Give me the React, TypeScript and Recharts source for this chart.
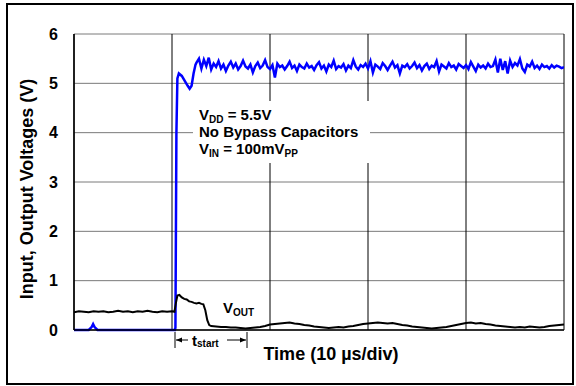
import { LineChart, Line, XAxis, YAxis, ReferenceLine } from 'recharts';

// time axis in units of 10 µs, 0..10; the grid shows a line every 2 units
const xTicks = [0, 2, 4, 6, 8, 10];
const yTicks = [0, 1, 2, 3, 4, 5, 6];

// V_DD (blue): flat start with a small blip, fast rise, ringing, then noisy plateau
const vddStartTimes = [0, 0.3, 0.36, 0.39, 0.42, 0.48, 2.06, 2.07, 2.09, 2.11, 2.14, 2.2, 2.26, 2.32, 2.36, 2.4, 2.44, 2.48];
const vddStartValues = [0, 0, 0.06, 0.12, 0.06, 0, 0, 0.05, 4.0, 5.1, 5.2, 5.15, 5.05, 4.95, 4.89, 4.95, 5.2, 5.38];
const vddNoiseStart = 2.5;
const vddNoiseStep = 0.05;
const vddNoiseValues = [
  5.42, 5.5, 5.3, 5.48, 5.35, 5.52, 5.28, 5.4, 5.33, 5.45,
  5.3, 5.38, 5.25, 5.36, 5.44, 5.32, 5.4, 5.28, 5.35, 5.46,
  5.34, 5.3, 5.38, 5.22, 5.35, 5.42, 5.31, 5.36, 5.47, 5.33,
  5.29, 5.37, 5.12, 5.4, 5.33, 5.36, 5.28, 5.35, 5.44, 5.31,
  5.36, 5.25, 5.38, 5.33, 5.3, 5.4, 5.32, 5.35, 5.27, 5.37,
  5.43, 5.3, 5.36, 5.24, 5.38, 5.33, 5.46, 5.29, 5.35, 5.32,
  5.39, 5.26, 5.36, 5.31, 5.47, 5.34, 5.28, 5.37, 5.33, 5.4,
  5.3, 5.45, 5.22, 5.38, 5.34, 5.29, 5.41, 5.35, 5.27, 5.36,
  5.44, 5.32, 5.37, 5.2, 5.36, 5.33, 5.39, 5.3, 5.35, 5.42,
  5.31, 5.37, 5.26, 5.35, 5.4, 5.29, 5.36, 5.33, 5.45, 5.24,
  5.38, 5.34, 5.3, 5.41, 5.33, 5.36, 5.28, 5.39, 5.35, 5.31,
  5.37, 5.29, 5.43, 5.34, 5.25, 5.38, 5.32, 5.36, 5.3, 5.4,
  5.33, 5.35, 5.48, 5.22, 5.5, 5.27, 5.45, 5.2, 5.46, 5.33,
  5.41, 5.36, 5.49, 5.3, 5.23, 5.38, 5.34, 5.44, 5.31, 5.36,
  5.29, 5.38, 5.33, 5.35, 5.3, 5.37, 5.32, 5.36, 5.34, 5.31, 5.33,
];

// V_OUT (black)
const voutPreStep = 0.1;
const voutPreValues = [
  0.36, 0.38, 0.37, 0.36, 0.38, 0.37, 0.38, 0.36, 0.37, 0.39, 0.37,
  0.38, 0.36, 0.38, 0.37, 0.39, 0.37, 0.36, 0.38, 0.37, 0.38,
];
const voutStepTimes = [2.05, 2.08, 2.11, 2.15, 2.2, 2.25, 2.3, 2.35, 2.4, 2.45, 2.5, 2.55, 2.6, 2.64, 2.68, 2.72, 2.76, 2.8, 2.9, 3.0];
const voutStepValues = [0.37, 0.55, 0.7, 0.71, 0.66, 0.63, 0.62, 0.58, 0.57, 0.55, 0.54, 0.55, 0.53, 0.52, 0.4, 0.2, 0.1, 0.08, 0.07, 0.06];
const voutTailStart = 3.1;
const voutTailStep = 0.1;
const voutTailValues = [
  0.06, 0.05, 0.05, 0.04, 0.03, 0.04, 0.05, 0.06, 0.08,
  0.11, 0.12, 0.13, 0.14, 0.15, 0.13, 0.12, 0.1, 0.09, 0.07,
  0.06, 0.05, 0.04, 0.05, 0.06, 0.05, 0.07, 0.08, 0.1, 0.12,
  0.13, 0.14, 0.15, 0.14, 0.13, 0.14, 0.12, 0.1, 0.09, 0.07,
  0.06, 0.05, 0.04, 0.03, 0.04, 0.05, 0.06, 0.08, 0.1, 0.12,
  0.14, 0.15, 0.13, 0.14, 0.12, 0.11, 0.09, 0.08, 0.07, 0.06,
  0.05, 0.06, 0.05, 0.07, 0.06, 0.05, 0.06, 0.08, 0.09, 0.1,
  0.11,
];

const vddData = [
  ...vddStartTimes.map((t, i) => ({ t, v: vddStartValues[i] })),
  ...vddNoiseValues.map((v, i) => ({ t: +(vddNoiseStart + i * vddNoiseStep).toFixed(3), v })),
];
const voutData = [
  ...voutPreValues.map((v, i) => ({ t: +(i * voutPreStep).toFixed(3), v })),
  ...voutStepTimes.map((t, i) => ({ t, v: voutStepValues[i] })),
  ...voutTailValues.map((v, i) => ({ t: +(voutTailStart + i * voutTailStep).toFixed(3), v })),
];

const FONT = '"Liberation Sans", Arial, sans-serif';

export default function App() {
  return (
    <div style={{ position: 'absolute', left: 0, top: 0, width: 576, height: 386, background: '#fff', fontFamily: FONT }}>
      <LineChart width={576} height={386} margin={{ top: 34, right: 12, bottom: 26, left: 14 }}>
        {yTicks.map((y) => (
          <ReferenceLine key={`h${y}`} y={y} stroke="#7a7a7a" strokeWidth={1} />
        ))}
        {xTicks.map((x) => (
          <ReferenceLine key={`v${x}`} x={x} stroke="#000" strokeWidth={1} />
        ))}
        <XAxis
          type="number"
          dataKey="t"
          domain={[0, 10]}
          ticks={xTicks}
          tick={false}
          tickLine={false}
          axisLine={{ stroke: '#000', strokeWidth: 1.5 }}
          height={30}
          allowDataOverflow
        />
        <YAxis
          type="number"
          domain={[0, 6]}
          ticks={yTicks}
          tickLine={false}
          tickSize={0}
          tickMargin={16}
          axisLine={{ stroke: '#000', strokeWidth: 1.5 }}
          width={60}
          tick={{ fill: '#000', fontSize: 16, fontWeight: 'bold', fontFamily: FONT }}
        />
        <Line data={vddData} dataKey="v" type="linear" stroke="#0000ff" strokeWidth={2.5} dot={false} isAnimationActive={false} />
        <Line data={voutData} dataKey="v" type="linear" stroke="#000" strokeWidth={2} dot={false} isAnimationActive={false} />
      </LineChart>
      <svg width={576} height={386} style={{ position: 'absolute', left: 0, top: 0, pointerEvents: 'none' }} fontFamily={FONT} fontWeight="bold">
        <rect x={7} y={4} width={566} height={380} fill="none" stroke="#000" strokeWidth={2} />
        <rect x={193} y={101} width={177} height={62} fill="#fff" />
        <text x={199} y={120} fontSize={15}>
          V<tspan fontSize={10} dy={2.5}>DD</tspan>
          <tspan dy={-2.5}> = 5.5V</tspan>
        </text>
        <text x={199} y={137} fontSize={15}>No Bypass Capacitors</text>
        <text x={199} y={154} fontSize={15}>
          V<tspan fontSize={10} dy={2.5}>IN</tspan>
          <tspan dy={-2.5}> = 100mV</tspan>
          <tspan fontSize={10} dy={2.5}>PP</tspan>
        </text>
        <text x={223} y={313} fontSize={15}>
          V<tspan fontSize={10} dy={3}>OUT</tspan>
        </text>
        <text transform="translate(33,189) rotate(-90)" textAnchor="middle" fontSize={18}>
          Input, Output Voltages (V)
        </text>
        <text x={331} y={360} textAnchor="middle" fontSize={18}>Time (10 µs/div)</text>
        {/* t_start marker */}
        <line x1={175} y1={332} x2={175} y2={348} stroke="#000" strokeWidth={1} />
        <line x1={247} y1={332} x2={247} y2={348} stroke="#000" strokeWidth={1} />
        <line x1={176} y1={340} x2={188} y2={340} stroke="#000" strokeWidth={1} />
        <line x1={227} y1={340} x2={246} y2={340} stroke="#000" strokeWidth={1} />
        <path d="M176,340 L182,337.5 L182,342.5 Z" fill="#000" />
        <path d="M246,340 L240,337.5 L240,342.5 Z" fill="#000" />
        <text x={192} y={346} fontSize={15}>
          t<tspan fontSize={10} dy={1}>start</tspan>
        </text>
      </svg>
    </div>
  );
}
